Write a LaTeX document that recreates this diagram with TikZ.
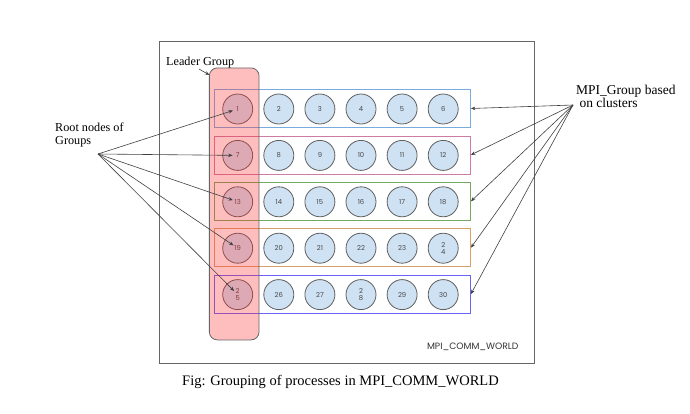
\documentclass[tikz,border=0pt]{standalone}
\usepackage{fontspec}
\setmainfont{Liberation Serif}
\newfontfamily\numfont{Poppins}
\usetikzlibrary{arrows.meta,positioning,calc}

\definecolor{procfill}{RGB}{207,226,243}
\definecolor{procdraw}{RGB}{95,95,95}
\definecolor{numtext}{RGB}{70,70,70}
\definecolor{leadfill}{RGB}{255,40,40}
\definecolor{rowA}{RGB}{120,172,222}
\definecolor{rowB}{RGB}{205,125,165}
\definecolor{rowC}{RGB}{115,170,95}
\definecolor{rowD}{RGB}{215,160,105}
\definecolor{rowE}{RGB}{105,100,248}

% process label, a few are split over two lines
\newcommand{\numlab}[1]{\ifnum#1=24 2\\4\else\ifnum#1=25 2\\5\else\ifnum#1=28 2\\8\else#1\fi\fi\fi}

\begin{document}
\begin{tikzpicture}[x=1pt, y=-1pt, >=Stealth,
    proc/.style={circle, draw=procdraw, fill=procfill, line width=0.8pt,
        minimum size=30pt, inner sep=0pt, text=numtext, align=center,
        font=\numfont\fontsize{6.8}{7}\selectfont},
    grp/.style={draw, line width=0.8pt, minimum width=256pt, minimum height=38pt, inner sep=0pt},
    lbl/.style={font=\fontsize{12.2}{12.5}\selectfont, align=left, inner sep=0pt},
    ptr/.style={->, >={Stealth[length=4.5pt,width=3.5pt]}, line width=0.6pt, draw=black!75}]
    \useasboundingbox (0,0) rectangle (690,413);

    % MPI_COMM_WORLD
    \node[draw=black!60, line width=0.8pt, minimum width=375pt, minimum height=322pt, inner sep=0pt]
        (world) at (346.8,202) {};
    \node[anchor=east, font=\numfont\fontsize{9.2}{9}\selectfont, text=black!80] (worldlbl) at (522,347) {MPI\_COMM\_WORLD};

    % Groups (rows)
    \foreach \row/\rc in {1/rowA,2/rowB,3/rowC,4/rowD,5/rowE} {
        \node[grp, draw=\rc] (g\row) at (342.5,{108.5+(\row-1)*46.4}) {};
    }

    % Processes
    \foreach \row in {1,...,5} {
        \foreach \col in {1,...,6} {
            \pgfmathtruncatemacro\n{(\row-1)*6+\col}
            \node[proc] (p\n) at ({237.7+(\col-1)*41.1},{109+(\row-1)*46.4}) {\numlab{\n}};
        }
    }

    % Leader group
    \node[draw=black!60, line width=0.8pt, fill=leadfill, fill opacity=0.3, rounded corners=8pt,
        minimum width=49.7pt, minimum height=272pt, inner sep=0pt] (leader) at (234.2,203.9) {};
    \node[lbl, anchor=base west] (leadlbl) at (166,65) {Leader Group};
    \coordinate (leadsrc) at (199,69);
    \draw[ptr] (leadsrc) -- ($(leader.north west)+(0.5,7.5)$);

    % Root nodes
    \node[lbl, anchor=base west] (root) at (55,144) {Root nodes of\\Groups};
    \coordinate (rootsrc) at (98,154);
    \foreach \n in {1,7,13,19,25} {
        \draw[ptr, shorten >=5pt] (rootsrc) -- (p\n.center);
    }

    % MPI groups
    \node[lbl, anchor=base west, font=\fontsize{13.5}{12.5}\selectfont] (mpi) at (576,107.3) {MPI\_Group based\\\ on clusters};
    \coordinate (mpisrc) at (573,105);
    \foreach \row in {1,...,5} {
        \draw[ptr] (mpisrc) -- (g\row.east);
    }

    % Caption
    \node[lbl, anchor=base, font=\fontsize{14.5}{15}\selectfont] (caption) at (340.5,385) {Fig: Grouping of processes in MPI\_COMM\_WORLD};
\end{tikzpicture}
\end{document}
